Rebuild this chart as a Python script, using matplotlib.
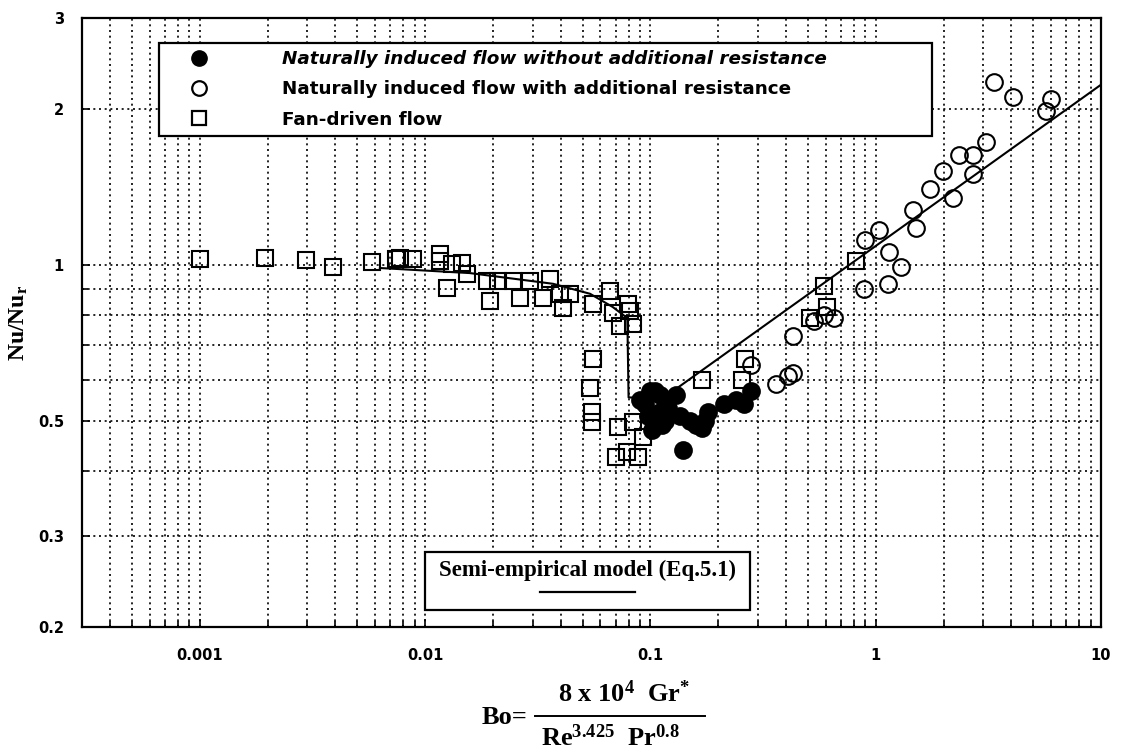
import numpy as np
import matplotlib
matplotlib.use('Agg')
import matplotlib.pyplot as plt
from matplotlib import patches
from matplotlib.lines import Line2D
from matplotlib.ticker import FixedLocator, FixedFormatter, NullFormatter

plt.rcParams['mathtext.fontset'] = 'custom'
plt.rcParams['mathtext.rm'] = 'Liberation Serif:bold'
plt.rcParams['mathtext.bf'] = 'Liberation Serif:bold'
plt.rcParams['mathtext.it'] = 'Liberation Serif:bold:italic'

## data

# fan-driven flow (open squares)
fan_x = [0.001, 0.00195, 0.00296, 0.0039, 0.0058, 0.0074, 0.0077, 0.0088, 0.0117, 0.0117,
         0.0132, 0.0146, 0.0154, 0.0125, 0.0189, 0.0211, 0.0246, 0.0293, 0.036, 0.0194,
         0.0264, 0.0334, 0.0398, 0.044, 0.041, 0.0558, 0.0664, 0.0685, 0.0798, 0.0815,
         0.0736, 0.084, 0.0558, 0.054, 0.0552, 0.0552, 0.072, 0.084, 0.093, 0.070,
         0.079, 0.0885, 0.17, 0.264, 0.254, 0.815, 0.59, 0.61, 0.51]
fan_y = [1.027, 1.031, 1.022, 0.991, 1.013, 1.027, 1.031, 1.027, 1.05, 1.018,
         1.004, 1.009, 0.961, 0.903, 0.932, 0.932, 0.932, 0.932, 0.94, 0.852,
         0.864, 0.864, 0.88, 0.88, 0.827, 0.842, 0.891, 0.809, 0.842, 0.816,
         0.763, 0.77, 0.66, 0.579, 0.52, 0.497, 0.486, 0.497, 0.465, 0.425,
         0.435, 0.425, 0.60, 0.66, 0.60, 1.02, 0.91, 0.83, 0.79]

# naturally induced flow with additional resistance (open circles)
res_x = [3.34, 4.06, 6.0, 5.7, 3.08, 2.34, 2.70, 2.70, 1.99, 1.75,
         2.20, 1.46, 1.51, 1.03, 0.90, 1.14, 1.29, 1.13, 0.885, 0.65,
         0.53, 0.43, 0.59, 0.28, 0.36, 0.41, 0.43]
res_y = [2.26, 2.11, 2.09, 1.98, 1.73, 1.63, 1.63, 1.50, 1.52, 1.40,
         1.35, 1.28, 1.18, 1.17, 1.12, 1.06, 0.99, 0.92, 0.90, 0.79,
         0.78, 0.73, 0.80, 0.64, 0.59, 0.61, 0.62]

# naturally induced flow without additional resistance (filled circles)
nores_x = [0.090, 0.095, 0.100, 0.105, 0.110, 0.098, 0.105, 0.110, 0.116, 0.102,
           0.120, 0.130, 0.135, 0.150, 0.160, 0.175, 0.180, 0.140, 0.113, 0.170,
           0.213, 0.240, 0.260, 0.280]
nores_y = [0.55, 0.54, 0.57, 0.57, 0.56, 0.51, 0.50, 0.52, 0.50, 0.48,
           0.53, 0.56, 0.51, 0.50, 0.49, 0.50, 0.52, 0.44, 0.49, 0.485,
           0.54, 0.55, 0.54, 0.57]

# semi-empirical model (Eq.5.1)
model_x = [0.0063, 0.0158, 0.037, 0.054, 0.068, 0.079, 0.080, 0.115, 10.0]
model_y = [0.987, 0.965, 0.92, 0.88, 0.83, 0.79, 0.555, 0.555, 2.23]

x_major = [0.001, 0.01, 0.1, 1, 10]
x_major_labels = ['0.001', '0.01', '0.1', '1', '10']
y_major = [0.2, 0.3, 0.5, 1, 2, 3]
y_major_labels = ['0.2', '0.3', '0.5', '1', '2', '3']
y_minor = [0.4, 0.6, 0.7, 0.8, 0.9]

labels = ['Naturally induced flow without additional resistance',
          'Naturally induced flow with additional resistance',
          'Fan-driven flow']


## figure

W, H = 1122, 751
fig = plt.figure(figsize=(W/100, H/100), dpi=100)
ax = fig.add_axes([82/W, 1-627/H, 1019/W, 609/H])

ax.set_xscale('log')
ax.set_yscale('log')
ax.set_xlim(3e-4, 10)
ax.set_ylim(0.2, 3)

x_minor = [k*10.0**e for e in range(-4, 1) for k in range(2, 10) if 3e-4 <= k*10.0**e < 10]

ax.xaxis.set_major_locator(FixedLocator(x_major))
ax.xaxis.set_major_formatter(FixedFormatter(x_major_labels))
ax.xaxis.set_minor_locator(FixedLocator(x_minor))
ax.xaxis.set_minor_formatter(NullFormatter())
ax.yaxis.set_major_locator(FixedLocator(y_major))
ax.yaxis.set_major_formatter(FixedFormatter(y_major_labels))
ax.yaxis.set_minor_locator(FixedLocator(y_minor))
ax.yaxis.set_minor_formatter(NullFormatter())

ax.grid(True, which='both', color='black', linestyle=(0, (1.2, 2.2)), linewidth=1.2)
ax.set_axisbelow(True)

ax.tick_params(which='both', direction='in', top=False, right=False, width=1.2)
ax.tick_params(which='major', length=6)
ax.tick_params(which='minor', length=4)
ax.tick_params(axis='x', which='major', pad=15)
ax.tick_params(axis='y', which='major', pad=13)
for lab in ax.get_xticklabels() + ax.get_yticklabels():
	lab.set_fontfamily('DejaVu Sans')
	lab.set_fontweight('bold')
	lab.set_fontsize(10.5)
for sp in ax.spines.values():
	sp.set_linewidth(1.6)

# model line
ax.plot(model_x, model_y, color='black', lw=1.5, zorder=3)

# data
ms = 12
ax.plot(fan_x, fan_y, ls='none', marker='s', ms=ms-1, mfc='none', mec='black', mew=1.5, zorder=4)
ax.plot(res_x, res_y, ls='none', marker='o', ms=ms, mfc='none', mec='black', mew=1.5, zorder=4)
ax.plot(nores_x, nores_y, ls='none', marker='o', ms=ms, mfc='black', mec='black', mew=1.5, zorder=5)

# legend
handles = [Line2D([], [], ls='none', marker='o', ms=11, mfc='black', mec='black'),
           Line2D([], [], ls='none', marker='o', ms=10.5, mfc='white', mec='black', mew=1.6),
           Line2D([], [], ls='none', marker='s', ms=9.5, mfc='white', mec='black', mew=1.6)]
leg = ax.legend(handles, labels, loc='upper left', bbox_to_anchor=(0.0756, 0.959, 0.759, 0.0),
                mode='expand', borderaxespad=0, fancybox=False, framealpha=1,
                edgecolor='black', borderpad=0.38, labelspacing=0.68,
                handlelength=3.55, handletextpad=2.8,
                prop={'family': 'DejaVu Sans', 'weight': 'bold', 'size': 13.2})
leg.get_frame().set_linewidth(1.6)
leg.get_texts()[0].set_fontstyle('italic')
leg.set_zorder(6)

# inset model key
ax.add_patch(patches.Rectangle((0.3366, 0.0279), 0.319, 0.0952, transform=ax.transAxes,
                               facecolor='white', edgecolor='black', lw=1.6, zorder=6))
ax.text(0.4956, 0.0936, 'Semi-empirical model (Eq.5.1)', transform=ax.transAxes,
        ha='center', va='center', fontsize=16.5, fontfamily='Liberation Serif',
        fontweight='bold', zorder=7)
ax.plot([0.449, 0.543], [0.0575, 0.0575], transform=ax.transAxes, color='black', lw=1.6, zorder=7)

ax.set_ylabel(r'Nu/Nu$_\mathrm{r}$', fontfamily='Liberation Serif', fontweight='bold',
              fontsize=17)
ax.yaxis.set_label_coords((30-82)/1019, 0.5)

# x label: Bo = 8 x 10^4 Gr* / (Re^3.425 Pr^0.8)
serif = dict(fontfamily='Liberation Serif', fontweight='bold', fontsize=19)
fig.text(505/W, 1-718/H, 'Bo=', ha='center', va='center', **serif)
fig.text(624/W, 1-694/H, r'8 x 10$^{4}$  Gr$^{*}$', ha='center', va='center', **serif)
fig.text(610/W, 1-738/H, r'Re$^{3.425}$  Pr$^{0.8}$', ha='center', va='center', **serif)
fig.add_artist(Line2D([535/W, 705/W], [1-716/H, 1-716/H], color='black', lw=1.4))

fig.savefig('out.png', dpi=100)
